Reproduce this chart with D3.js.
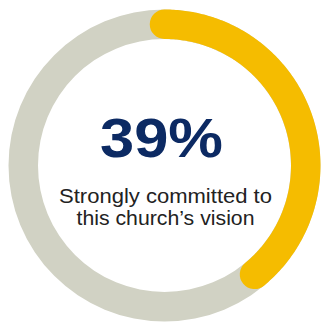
<!DOCTYPE html>
<html><head><meta charset="utf-8">
<script src="https://cdn.jsdelivr.net/npm/d3@7"></script>
<style>html,body{margin:0;padding:0;background:#fff;}svg{display:block;}</style>
</head><body>
<script>
const categories = ["Strongly committed to this church's vision", "Other"];
const values = [39, 61];
const valueLabel = "39%";
const subtitleLines = ["Strongly committed to", "this church\u2019s vision"];

const W = 321, H = 322;
const cx = 164.5, cy = 165.5, R = 156, thick = 29.5;
const rMid = R - thick / 2;

const svg = d3.select("body").append("svg").attr("width", W).attr("height", H);
const g = svg.append("g").attr("transform", `translate(${cx},${cy})`);

const total = d3.sum(values);
const angle = d3.scaleLinear().domain([0, total]).range([0, 2 * Math.PI]);

// background ring
g.append("path")
  .attr("d", d3.arc().innerRadius(R - thick).outerRadius(R).startAngle(0).endAngle(2 * Math.PI)())
  .attr("fill", "#d1d2c4");

// value arc as stroked line with round caps
const a0 = angle(0), a1 = angle(values[0]);
const pts = d3.range(0, 201).map(i => {
  const a = a0 + (a1 - a0) * i / 200;
  return [rMid * Math.sin(a), -rMid * Math.cos(a)];
});
g.append("path")
  .attr("d", d3.line()(pts))
  .attr("fill", "none")
  .attr("stroke", "#f5bc00")
  .attr("stroke-width", thick)
  .attr("stroke-linecap", "round");

svg.append("text")
  .attr("x", 161.5).attr("y", 157)
  .attr("text-anchor", "middle")
  .attr("font-family", "Liberation Sans, Arial, sans-serif")
  .attr("font-weight", "bold")
  .attr("font-size", 55)
  .attr("fill", "#0c2a63")
  .attr("textLength", 123)
  .attr("lengthAdjust", "spacingAndGlyphs")
  .text(valueLabel);

const subW = [213, 178];
const subY = [203, 225];
subtitleLines.forEach((t, i) => {
  svg.append("text")
    .attr("x", 165.5).attr("y", subY[i])
    .attr("text-anchor", "middle")
    .attr("font-family", "Liberation Sans, Arial, sans-serif")
    .attr("font-size", 21)
    .attr("fill", "#222222")
    .attr("textLength", subW[i])
    .attr("lengthAdjust", "spacingAndGlyphs")
    .text(t);
});
</script>
</body></html>
